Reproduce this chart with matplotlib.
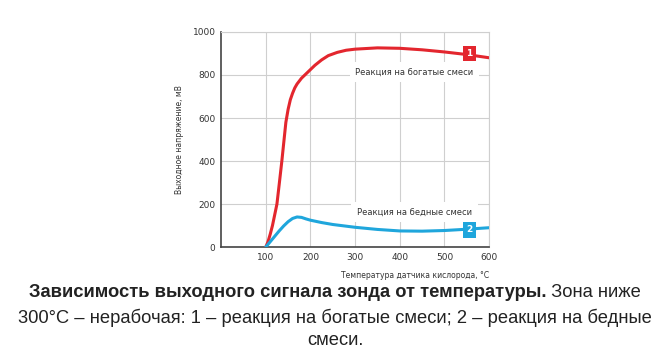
import matplotlib
matplotlib.use("Agg")
import matplotlib.pyplot as plt

# curve data
temp_rich = [100, 105, 110, 115, 120, 125, 130, 136, 140, 145, 150, 155, 160, 165, 170, 180, 190,
             200, 210, 225, 240, 260, 280, 300, 350, 400, 450, 500, 550, 600]
volt_rich = [0, 25, 60, 100, 150, 200, 290, 400, 480, 580, 640, 685, 715, 740, 758, 785, 805,
             825, 845, 870, 890, 905, 915, 920, 926, 924, 917, 907, 895, 880]
temp_lean = [100, 110, 120, 130, 140, 150, 160, 170, 180, 190, 200, 225, 250, 300, 350, 400, 450, 500, 550, 600]
volt_lean = [0, 25, 50, 75, 98, 118, 133, 140, 138, 131, 125, 114, 105, 92, 82, 75, 74, 77, 83, 90]
x_ticks = [100, 200, 300, 400, 500, 600]
y_ticks = [0, 200, 400, 600, 800, 1000]

RED = '#e3262e'
BLUE = '#1fa6dc'
cap_font = 'Liberation Sans'

fig = plt.figure(figsize=(6.7, 3.55), dpi=100)
ax = fig.add_axes([0.33, 0.304, 0.40, 0.606])

ax.plot(temp_rich, volt_rich, color=RED, lw=2.2, solid_capstyle='round', zorder=3)
ax.plot(temp_lean, volt_lean, color=BLUE, lw=2.2, solid_capstyle='round', zorder=3)

ax.set_xlim(0, 600)
ax.set_ylim(0, 1000)
ax.set_xticks(x_ticks)
ax.set_yticks(y_ticks)
ax.tick_params(length=0, labelsize=6.5, colors='#333333', pad=4)
ax.grid(True, color='#cfcfcf', lw=0.8, zorder=0)
for side in ['top', 'right']:
    ax.spines[side].set_color('#cfcfcf')
    ax.spines[side].set_linewidth(0.8)
for side in ['left', 'bottom']:
    ax.spines[side].set_color('#444444')
    ax.spines[side].set_linewidth(1.2)

ax.set_ylabel('Выходное напряжение, мВ', fontsize=5.5, color='#333333', labelpad=6)
ax.text(1.0, -0.11, 'Температура датчика кислорода, °C', transform=ax.transAxes,
        ha='right', va='top', fontsize=5.5, color='#333333')

ax.text(433, 814, 'Реакция на богатые смеси', ha='center', va='center', fontsize=6,
        color='#333333', zorder=4, bbox=dict(fc='white', ec='none', pad=4))
ax.text(433, 163, 'Реакция на бедные смеси', ha='center', va='center', fontsize=6,
        color='#333333', zorder=4, bbox=dict(fc='white', ec='none', pad=4))

ax.text(556, 900, '1', ha='center', va='center', fontsize=6.5, color='white', weight='bold',
        zorder=5, bbox=dict(fc=RED, ec='none', boxstyle='square,pad=0.35'))
ax.text(556, 80, '2', ha='center', va='center', fontsize=6.5, color='white', weight='bold',
        zorder=5, bbox=dict(fc=BLUE, ec='none', boxstyle='square,pad=0.35'))

# caption: bold part + regular part on first line, centred together
fs = 13.2
renderer = fig.canvas.get_renderer()
t1 = fig.text(0, 0.175, 'Зависимость выходного сигнала зонда от температуры.', fontsize=fs,
              weight='bold', family=cap_font, color='#222222', va='center')
t2 = fig.text(0, 0.175, ' Зона ниже', fontsize=fs, family=cap_font, color='#222222', va='center')
w1 = t1.get_window_extent(renderer).width
w2 = t2.get_window_extent(renderer).width
W = fig.bbox.width
x0 = (W - w1 - w2) / 2
t1.set_x(x0 / W)
t2.set_x((x0 + w1) / W)

fig.text(0.5, 0.105, '300°C – нерабочая: 1 – реакция на богатые смеси; 2 – реакция на бедные',
         fontsize=fs, family=cap_font, color='#222222', ha='center', va='center')
fig.text(0.5, 0.04, 'смеси.', fontsize=fs, family=cap_font, color='#222222', ha='center', va='center')

fig.savefig('out.png', dpi=100)
